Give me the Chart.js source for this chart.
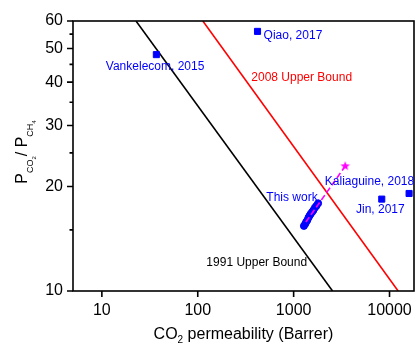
<!DOCTYPE html>
<html lang="en">
<head>
<meta charset="UTF-8">
<title>CO2/CH4 upper bound plot</title>
<script src="https://cdn.jsdelivr.net/npm/chart.js"></script>
<style>
  body { margin: 0; background: #fff; }
</style>
</head>
<body>
<canvas id="robeson" width="415" height="344"></canvas>
<script>
const FONT = 'Arial, "Liberation Sans", sans-serif';

// literature membranes
const litNames = ['Vankelecom, 2015', 'Qiao, 2017', 'Jin, 2017', 'Kaliaguine, 2018'];
const litPerm = [37, 420, 8300, 16000];
const litSel = [48, 56, 18.4, 19.1];

// this work
const workPerm = [1280, 1320, 1350, 1390, 1430, 1470, 1510, 1560, 1610, 1670, 1730, 1800];
const workSel = [15.4, 15.6, 15.8, 16.0, 16.3, 16.5, 16.7, 16.9, 17.1, 17.4, 17.6, 17.9];

// dashed trend up to the starred point
const trendPerm = [1340, 3450];
const trendSel = [15.8, 22.9];
const starPerm = [3450];
const starSel = [22.9];

// upper bounds, endpoints where they meet the frame
const bound1991Perm = [22.7, 2546];
const bound1991Sel = [60, 10];
const bound2008Perm = [113, 12300];
const bound2008Sel = [60, 10];

const xTicks = [10, 100, 1000, 10000];
const yTicks = [10, 15, 20, 25, 30, 35, 40, 45, 50, 55, 60];
const yLabelled = [10, 20, 30, 40, 50, 60];

// text placed on the plot (left edge / vertical middle, in data units)
const notes = [
  { text: 'Vankelecom, 2015', x: 11.0, y: 44.4, color: '#0000ff' },
  { text: 'Qiao, 2017', x: 486, y: 54.4, color: '#0000ff' },
  { text: '2008 Upper Bound', x: 362, y: 41.3, color: '#ff0000' },
  { text: '1991 Upper Bound', x: 123, y: 12.1, color: '#000000' },
  { text: 'This work', x: 519, y: 18.6, color: '#0000ff' },
  { text: 'Kaliaguine, 2018', x: 2113, y: 20.6, color: '#0000ff' },
  { text: 'Jin, 2017', x: 4467, y: 17.1, color: '#0000ff' }
];

const pts = (xs, ys) => xs.map((v, i) => ({ x: v, y: ys[i] }));

// filled five point star used as a point style
function makeStar(r, color) {
  const c = document.createElement('canvas');
  c.width = c.height = Math.ceil(r * 2 + 2);
  const g = c.getContext('2d');
  const cx = c.width / 2, cy = c.height / 2;
  g.beginPath();
  for (let i = 0; i < 10; i++) {
    const rr = i % 2 ? r * 0.42 : r;
    const ang = -Math.PI / 2 + i * Math.PI / 5;
    g.lineTo(cx + rr * Math.cos(ang), cy + rr * Math.sin(ang));
  }
  g.closePath();
  g.fillStyle = color;
  g.fill();
  return c;
}

// draws pieces of text with subscript offsets, centered on x
function drawRich(ctx, pieces, x, y) {
  let total = 0;
  pieces.forEach(p => { ctx.font = p.size + 'px ' + FONT; p.w = ctx.measureText(p.t).width; total += p.w; });
  let cur = x - total / 2;
  ctx.textAlign = 'left';
  ctx.textBaseline = 'alphabetic';
  pieces.forEach(p => {
    ctx.font = p.size + 'px ' + FONT;
    ctx.fillText(p.t, cur, y + (p.dy || 0));
    cur += p.w;
  });
}

const frameAndText = {
  id: 'frameAndText',
  afterDraw(chart) {
    const { ctx, chartArea: a, scales: { x, y } } = chart;
    ctx.save();
    ctx.strokeStyle = '#000';
    ctx.lineWidth = 1.6;
    ctx.strokeRect(a.left, a.top, a.right - a.left, a.bottom - a.top);

    // tick marks point out of the frame
    ctx.beginPath();
    xTicks.forEach(v => {
      const px = x.getPixelForValue(v);
      ctx.moveTo(px, a.bottom);
      ctx.lineTo(px, a.bottom + 6);
    });
    yTicks.forEach(v => {
      const py = y.getPixelForValue(v);
      const len = yLabelled.includes(v) ? 6 : 3.5;
      ctx.moveTo(a.left, py);
      ctx.lineTo(a.left - len, py);
    });
    ctx.stroke();

    // annotations
    ctx.font = '12px ' + FONT;
    ctx.textAlign = 'left';
    ctx.textBaseline = 'middle';
    notes.forEach(n => {
      ctx.fillStyle = n.color;
      ctx.fillText(n.text, x.getPixelForValue(n.x), y.getPixelForValue(n.y));
    });

    // axis titles
    ctx.fillStyle = '#000';
    drawRich(ctx, [
      { t: 'CO', size: 16 },
      { t: '2', size: 10, dy: 4 },
      { t: ' permeability (Barrer)', size: 16 }
    ], (a.left + a.right) / 2, 339);

    ctx.translate(27, 152);
    ctx.rotate(-Math.PI / 2);
    drawRich(ctx, [
      { t: 'P', size: 16 },
      { t: 'CO', size: 9, dy: 6 },
      { t: '2', size: 6, dy: 9 },
      { t: '/ ', size: 16 },
      { t: 'P', size: 16 },
      { t: 'CH', size: 9, dy: 6 },
      { t: '4', size: 6, dy: 9 }
    ], 0, 0);
    ctx.restore();
  }
};

const ctx = document.getElementById('robeson').getContext('2d');

new Chart(ctx, {
  type: 'scatter',
  data: {
    datasets: [
      {
        label: 'trend',
        data: pts(trendPerm, trendSel),
        showLine: true,
        borderColor: '#ff00ff',
        borderWidth: 1.6,
        borderDash: [6, 3],
        pointRadius: 0,
        order: 0
      },
      {
        label: 'star',
        data: pts(starPerm, starSel),
        pointStyle: makeStar(5, '#ff00ff'),
        order: 0
      },
      {
        label: 'This work',
        data: pts(workPerm, workSel),
        pointStyle: 'circle',
        pointRadius: 3.5,
        borderWidth: 1,
        backgroundColor: '#0000ff',
        borderColor: '#0000ff',
        order: 1
      },
      {
        label: 'Literature',
        data: pts(litPerm, litSel),
        pointStyle: 'rect',
        pointRadius: 4.3,
        borderWidth: 1,
        backgroundColor: '#0000ff',
        borderColor: '#0000ff',
        order: 2
      },
      {
        label: '1991 Upper Bound',
        data: pts(bound1991Perm, bound1991Sel),
        showLine: true,
        borderColor: '#000000',
        borderWidth: 1.6,
        pointRadius: 0,
        order: 3
      },
      {
        label: '2008 Upper Bound',
        data: pts(bound2008Perm, bound2008Sel),
        showLine: true,
        borderColor: '#ff0000',
        borderWidth: 1.6,
        pointRadius: 0,
        order: 3
      }
    ]
  },
  options: {
    responsive: false,
    animation: false,
    layout: { autoPadding: false, padding: { top: 21, right: 1, left: 0, bottom: 0 } },
    plugins: {
      legend: { display: false },
      tooltip: { enabled: false }
    },
    scales: {
      x: {
        type: 'logarithmic',
        min: 5,
        max: 18000,
        afterBuildTicks: s => { s.ticks = xTicks.map(v => ({ value: v })); },
        afterFit: s => { s.height = 53; s.paddingLeft = 0; s.paddingRight = 0; },
        grid: { display: false, drawTicks: false },
        border: { display: false },
        ticks: {
          autoSkip: false,
          maxRotation: 0,
          padding: 10,
          color: '#000',
          font: { family: FONT, size: 16 },
          callback: v => String(v)
        }
      },
      y: {
        type: 'logarithmic',
        min: 10,
        max: 60,
        afterBuildTicks: s => { s.ticks = yTicks.map(v => ({ value: v })); },
        afterFit: s => { s.width = 73; s.paddingTop = 0; s.paddingBottom = 0; },
        grid: { display: false, drawTicks: false },
        border: { display: false },
        ticks: {
          autoSkip: false,
          padding: 10,
          color: '#000',
          font: { family: FONT, size: 16 },
          callback: v => yLabelled.includes(v) ? String(v) : ''
        }
      }
    }
  },
  plugins: [frameAndText]
});
</script>
</body>
</html>
